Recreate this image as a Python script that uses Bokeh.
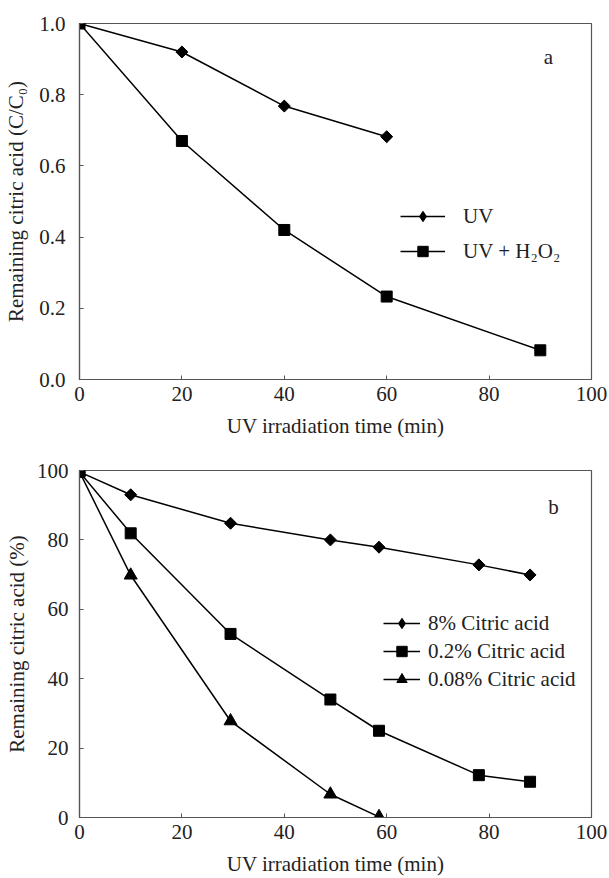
import math
from bokeh.plotting import figure
from bokeh.layouts import column
from bokeh.models import Legend, LegendItem, Label, Range1d, FixedTicker, NumeralTickFormatter
from bokeh.embed import file_html
from bokeh.resources import INLINE

# Panel a
a_uv_t = [0, 20, 40, 60]
a_uv_c = [1.0, 0.92, 0.768, 0.682]
a_h2o2_t = [0, 20, 40, 60, 90]
a_h2o2_c = [1.0, 0.67, 0.42, 0.233, 0.082]

# Panel b
b_8_t = [0, 10, 29.5, 49, 58.5, 78, 88]
b_8_c = [99.6, 93.0, 84.8, 80.0, 77.9, 72.8, 69.9]
b_02_t = [0, 10, 29.5, 49, 58.5, 78, 88]
b_02_c = [99.6, 81.9, 52.9, 34.0, 25.0, 12.2, 10.3]
b_008_t = [0, 10, 29.5, 49, 58.5]
b_008_c = [99.6, 69.8, 27.8, 6.7, 0.2]

x_ticks = [0, 20, 40, 60, 80, 100]
a_y_ticks = [0.0, 0.2, 0.4, 0.6, 0.8, 1.0]
b_y_ticks = [0, 20, 40, 60, 80, 100]

FONT = "Liberation Serif"
FS = "21px"
TXT = "#222222"
AX = "#555555"

def style(p):
    p.outline_line_color = AX
    p.outline_line_width = 1.2
    p.grid.visible = False
    p.background_fill_color = "white"
    p.border_fill_color = "white"
    for ax in (p.xaxis[0], p.yaxis[0]):
        ax.axis_line_color = AX
        ax.axis_line_width = 1.2
        ax.major_tick_in = 4
        ax.major_tick_out = 0
        ax.minor_tick_line_color = None
        ax.major_tick_line_color = AX
        ax.major_label_text_font = FONT
        ax.major_label_text_font_size = FS
        ax.major_label_text_color = TXT
        ax.axis_label_text_font = FONT
        ax.axis_label_text_font_size = FS
        ax.axis_label_text_font_style = "normal"
        ax.axis_label_text_color = TXT
    p.xaxis.axis_label = "UV irradiation time (min)"
    p.xaxis.ticker = FixedTicker(ticks=x_ticks)
    p.xaxis.major_label_standoff = 7
    p.xaxis.axis_label_standoff = 10

W = 609

def diamonds(p, xs, ys):
    # narrow diamond (used by the legend swatch), covered by an equal-sided
    # diamond made from a rotated square, as in the original
    legend_r = p.scatter(xs, ys, marker="diamond", size=9, color="black")
    p.scatter(xs, ys, marker="square", angle=math.pi / 4, size=8.5, color="black")
    return legend_r

pa = figure(width=W, height=440, output_backend="svg", toolbar_location=None,
            x_range=Range1d(0, 100), y_range=Range1d(0, 1.0),
            min_border_left=79, min_border_right=18, min_border_top=23, min_border_bottom=54)
style(pa)
pa.yaxis.ticker = FixedTicker(ticks=a_y_ticks)
pa.yaxis.formatter = NumeralTickFormatter(format="0.0")
pa.yaxis.axis_label = "Remaining citric acid (C/C\u2080)"
pa.yaxis.major_label_standoff = 14
pa.yaxis.axis_label_standoff = 8

l1 = pa.line(a_uv_t, a_uv_c, line_color="black", line_width=1.5)
m1 = diamonds(pa, a_uv_t, a_uv_c)
l2 = pa.line(a_h2o2_t, a_h2o2_c, line_color="black", line_width=1.5)
m2 = pa.scatter(a_h2o2_t, a_h2o2_c, marker="square", size=11, color="black")

leg_a = Legend(items=[LegendItem(label="UV", renderers=[l1, m1]),
                      LegendItem(label="UV + H\u2082O\u2082", renderers=[l2, m2])],
               location=(321, 115), padding=0, margin=0, spacing=9,
               glyph_width=45, glyph_height=26, label_height=26, label_standoff=18,
               label_text_font=FONT, label_text_font_size=FS, label_text_color=TXT,
               border_line_alpha=0, background_fill_alpha=0)
pa.add_layout(leg_a)
pa.add_layout(Label(x=91.6, y=0.906, text="a", text_font=FONT, text_font_size=FS,
                    text_align="center", text_baseline="middle", text_color=TXT))

pb = figure(width=W, height=438, output_backend="svg", toolbar_location=None,
            x_range=Range1d(0, 100), y_range=Range1d(0, 100),
            min_border_left=79, min_border_right=18, min_border_top=30, min_border_bottom=60)
style(pb)
pb.yaxis.ticker = FixedTicker(ticks=b_y_ticks)
pb.yaxis.axis_label = "Remaining citric acid (%)"
pb.yaxis.major_label_standoff = 11
pb.yaxis.axis_label_standoff = 5

k1 = pb.line(b_8_t, b_8_c, line_color="black", line_width=1.5)
n1 = diamonds(pb, b_8_t, b_8_c)
k2 = pb.line(b_02_t, b_02_c, line_color="black", line_width=1.5)
n2 = pb.scatter(b_02_t, b_02_c, marker="square", size=11, color="black")
k3 = pb.line(b_008_t, b_008_c, line_color="black", line_width=1.5)
n3 = pb.scatter(b_008_t, b_008_c, marker="triangle", size=13, color="black")

leg_b = Legend(items=[LegendItem(label="8% Citric acid", renderers=[k1, n1]),
                      LegendItem(label="0.2% Citric acid", renderers=[k2, n2]),
                      LegendItem(label="0.08% Citric acid", renderers=[k3, n3])],
               location=(304, 125), padding=0, margin=0, spacing=2,
               glyph_width=37, glyph_height=26, label_height=26, label_standoff=8,
               label_text_font=FONT, label_text_font_size=FS, label_text_color=TXT,
               border_line_alpha=0, background_fill_alpha=0)
pb.add_layout(leg_b)
pb.add_layout(Label(x=92.6, y=89.4, text="b", text_font=FONT, text_font_size=FS,
                    text_align="center", text_baseline="middle", text_color=TXT))

layout = column(pa, pb, spacing=0)
open("out.html", "w").write(file_html(layout, INLINE))
